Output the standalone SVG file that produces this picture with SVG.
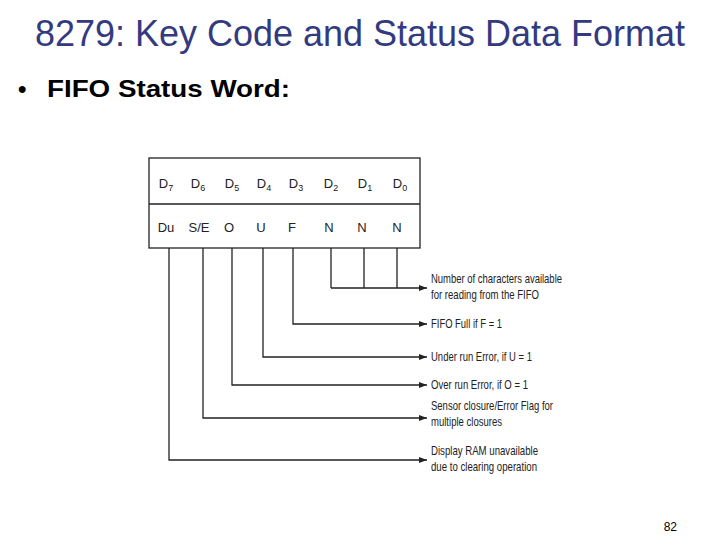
<svg xmlns="http://www.w3.org/2000/svg" width="720" height="540" viewBox="0 0 720 540">
<defs><marker id="a" markerWidth="8" markerHeight="6" refX="8" refY="3" orient="auto" markerUnits="userSpaceOnUse"><path d="M0,0 L8,3 L0,6 Z" fill="#222"/></marker>
<style>.t{font-family:"Liberation Sans",Arial,sans-serif;font-size:13px;fill:#222}.c{text-anchor:middle}.l{stroke:#222;stroke-width:1.3;fill:none}.s{font-size:9px}</style></defs>
<rect width="720" height="540" fill="#fff"/>
<text x="360" y="46" text-anchor="middle" font-family="Liberation Sans,Arial,sans-serif" font-size="36" fill="#333a80" textLength="650" lengthAdjust="spacingAndGlyphs">8279: Key Code and Status Data Format</text>
<text x="18" y="97" font-family="Liberation Sans,Arial,sans-serif" font-size="24" font-weight="bold" fill="#000">•</text>
<text x="47" y="97" font-family="Liberation Sans,Arial,sans-serif" font-size="24" font-weight="bold" fill="#000" textLength="243" lengthAdjust="spacingAndGlyphs">FIFO Status Word:</text>
<g id="box"><rect class="l" x="149" y="158" width="271" height="90"/><line class="l" x1="149" y1="204" x2="420" y2="204"/>
<g class="t c">
<text x="166" y="188">D<tspan class="s" dy="3">7</tspan></text><text x="198" y="188">D<tspan class="s" dy="3">6</tspan></text><text x="232" y="188">D<tspan class="s" dy="3">5</tspan></text><text x="264" y="188">D<tspan class="s" dy="3">4</tspan></text><text x="296" y="188">D<tspan class="s" dy="3">3</tspan></text><text x="331" y="188">D<tspan class="s" dy="3">2</tspan></text><text x="365" y="188">D<tspan class="s" dy="3">1</tspan></text><text x="400" y="188">D<tspan class="s" dy="3">0</tspan></text>
<text x="166" y="232">Du</text><text x="199" y="232">S/E</text><text x="229" y="232">O</text><text x="261" y="232">U</text><text x="292" y="232">F</text><text x="329" y="232">N</text><text x="362" y="232">N</text><text x="397" y="232">N</text></g></g>
<g id="connectors">
<path class="l" d="M331,248 V288 M364,248 V288 M397,248 V288 M331,288 H427" marker-end="url(#a)"/>
<path class="l" d="M293,248 V324 H427" marker-end="url(#a)"/>
<path class="l" d="M263,248 V357 H427" marker-end="url(#a)"/>
<path class="l" d="M232,248 V385 H427" marker-end="url(#a)"/>
<path class="l" d="M203,248 V418 H427" marker-end="url(#a)"/>
<path class="l" d="M169,248 V460 H427" marker-end="url(#a)"/>
</g>
<g id="labels" class="t" lengthAdjust="spacingAndGlyphs">
<text x="431" y="283" textLength="131" lengthAdjust="spacingAndGlyphs">Number of characters available</text><text x="431" y="299" textLength="108" lengthAdjust="spacingAndGlyphs">for reading from the FIFO</text>
<text x="431" y="328" textLength="71" lengthAdjust="spacingAndGlyphs">FIFO Full if F = 1</text>
<text x="431" y="361" textLength="101" lengthAdjust="spacingAndGlyphs">Under run Error, if U = 1</text>
<text x="431" y="389" textLength="97" lengthAdjust="spacingAndGlyphs">Over run Error, if O = 1</text>
<text x="431" y="410" textLength="122" lengthAdjust="spacingAndGlyphs">Sensor closure/Error Flag for</text><text x="431" y="426" textLength="71" lengthAdjust="spacingAndGlyphs">multiple closures</text>
<text x="431" y="455" textLength="107" lengthAdjust="spacingAndGlyphs">Display RAM unavailable</text><text x="431" y="471" textLength="106" lengthAdjust="spacingAndGlyphs">due to clearing operation</text>
</g>
<text x="677" y="531" text-anchor="end" font-family="Liberation Sans,Arial,sans-serif" font-size="12" fill="#000">82</text>
</svg>
